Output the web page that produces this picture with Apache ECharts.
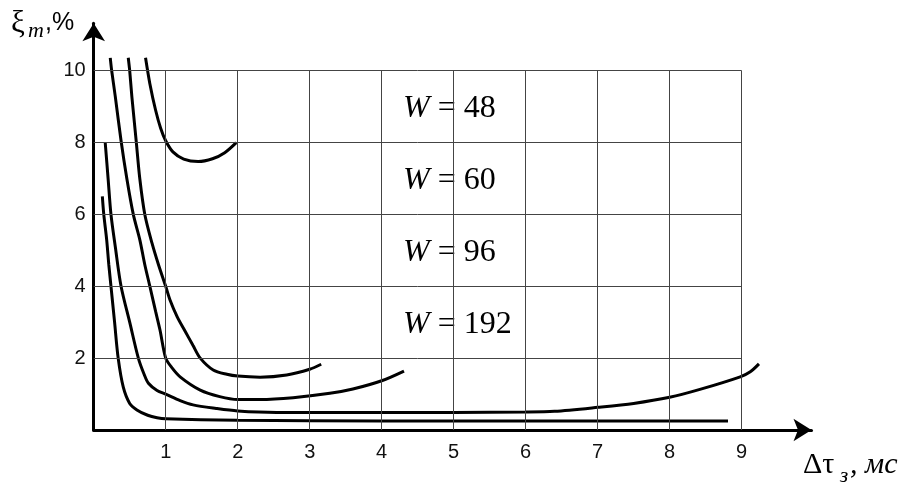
<!DOCTYPE html>
<html>
<head>
<meta charset="utf-8">
<script src="https://cdn.jsdelivr.net/npm/echarts@6/dist/echarts.min.js"></script>
<style>
html,body{margin:0;padding:0;background:#fff;}
#chart{width:908px;height:486px;}
</style>
</head>
<body>
<div id="chart"></div>
<script>
// ---- data ----
const xTicks = [1, 2, 3, 4, 5, 6, 7, 8, 9];
const yTicks = [2, 4, 6, 8, 10];
const wLabels = ['48', '60', '96', '192'];

const curveW48 = [[0.72,10.36],[0.78,9.64],[0.86,8.9],[0.93,8.4],[1.0,8.05],[1.1,7.74],[1.25,7.54],[1.45,7.47],[1.65,7.55],[1.82,7.72],[1.98,8.0]];
const curveW60 = [[0.48,10.36],[0.5,10.0],[0.53,9.28],[0.59,8.05],[0.64,7.0],[0.71,6.0],[0.81,5.2],[0.9,4.6],[1.0,4.0],[1.06,3.62],[1.16,3.15],[1.27,2.75],[1.38,2.35],[1.48,2.0],[1.66,1.67],[1.85,1.55],[2.0,1.5],[2.31,1.47],[2.68,1.53],[3.0,1.69],[3.16,1.83]];
const curveW96 = [[0.23,10.36],[0.25,10.0],[0.3,9.28],[0.38,8.05],[0.46,7.0],[0.55,6.0],[0.64,5.3],[0.71,4.6],[0.78,4.0],[0.86,3.3],[0.92,2.79],[1.0,2.0],[1.08,1.75],[1.2,1.48],[1.48,1.11],[1.75,0.93],[2.0,0.85],[2.31,0.85],[2.77,0.9],[3.28,1.02],[3.6,1.14],[4.0,1.37],[4.31,1.64]];
const curveW192 = [[0.16,8.0],[0.2,7.0],[0.24,6.0],[0.3,5.1],[0.38,4.0],[0.5,3.0],[0.62,2.0],[0.7,1.55],[0.76,1.3],[0.88,1.1],[1.0,1.0],[1.2,0.82],[1.38,0.7],[1.7,0.6],[2.0,0.53],[2.54,0.49],[3.5,0.49],[5.0,0.49],[6.0,0.5],[6.4,0.52],[7.0,0.63],[7.5,0.74],[8.0,0.91],[8.42,1.13],[8.98,1.48],[9.12,1.62],[9.24,1.84]];
const curveBase = [[0.12,6.5],[0.14,6.0],[0.18,5.3],[0.21,4.6],[0.24,4.0],[0.29,3.0],[0.34,2.0],[0.41,1.2],[0.5,0.74],[0.6,0.56],[0.75,0.41],[0.88,0.34],[1.0,0.31],[2.0,0.27],[4.0,0.25],[6.0,0.25],[8.81,0.25]];

const curves = [curveW48, curveW60, curveW96, curveW192, curveBase];

// ---- chart ----
const chart = echarts.init(document.getElementById('chart'), null, {renderer: 'canvas'});

const gridLineData = [];
xTicks.forEach(x => gridLineData.push([{coord: [x, 0]}, {coord: [x, yTicks[yTicks.length - 1]]}]));
yTicks.forEach(y => gridLineData.push([{coord: [0, y]}, {coord: [xTicks[xTicks.length - 1], y]}]));

const series = [{
  type: 'line',
  data: [],
  silent: true,
  markLine: {
    silent: true,
    symbol: ['none', 'none'],
    label: {show: false},
    lineStyle: {type: 'solid', color: '#444', width: 1},
    emphasis: {disabled: true},
    data: gridLineData
  },
  z: 1
}];
curves.forEach(c => series.push({
  type: 'line',
  data: c,
  showSymbol: false,
  smooth: 0.3,
  lineStyle: {color: '#000', width: 3},
  z: 3
}));

const serif = 'Liberation Serif, Times New Roman, serif';
const sans = 'Liberation Sans, Arial, sans-serif';

const wGraphics = wLabels.map((w, i) => ({
  type: 'text',
  left: 403,
  top: [107, 179, 251, 323][i] - 14,
  style: {
    text: '{w|W} = ' + w,
    font: '32px ' + serif,
    fill: '#000',
    rich: {
      w: {fontStyle: 'italic', fontSize: 32, fontFamily: serif, fill: '#000'}
    }
  }
}));

const option = {
  animation: false,
  grid: {left: 93.7, top: 23.3, right: 96.5, bottom: 56, containLabel: false},
  xAxis: {
    type: 'value',
    min: 0, max: 9.97, interval: 1,
    axisLine: {onZero: true, symbol: ['none', 'arrow'], symbolSize: [17, 18], lineStyle: {color: '#000', width: 3}},
    axisTick: {show: false},
    splitLine: {show: false},
    axisLabel: {
      margin: 12, fontSize: 20, fontFamily: sans, color: '#111',
      showMaxLabel: false,
      formatter: v => xTicks.indexOf(v) >= 0 ? String(v) : ''
    }
  },
  yAxis: {
    type: 'value',
    min: 0, max: 11.32, interval: 2,
    axisLine: {onZero: true, symbol: ['none', 'arrow'], symbolSize: [17, 18], lineStyle: {color: '#000', width: 3}},
    axisTick: {show: false},
    splitLine: {show: false},
    axisLabel: {
      margin: 8, fontSize: 20, fontFamily: sans, color: '#111',
      showMaxLabel: false,
      formatter: v => yTicks.indexOf(v) >= 0 ? String(v) : ''
    }
  },
  graphic: [
    {type: 'text', left: 11, top: 8, style: {text: 'ξ', font: '31px ' + serif, fill: '#000'}},
    {type: 'text', left: 28, top: 20, style: {text: 'm', font: 'italic 22px ' + serif, fill: '#000'}},
    {type: 'text', left: 45, top: 11, style: {text: ',%', font: '25px ' + sans, fill: '#000'}},
    {type: 'text', left: 803, top: 450, style: {text: 'Δτ', font: '30px ' + serif, fill: '#000'}},
    {type: 'text', left: 840, top: 466, style: {text: 'з', font: 'italic 21px ' + serif, fill: '#000'}},
    {type: 'text', left: 850, top: 450, style: {text: ', мс', font: 'italic 30px ' + serif, fill: '#000'}}
  ].concat(wGraphics),
  series: series
};
chart.setOption(option);
</script>
</body>
</html>
